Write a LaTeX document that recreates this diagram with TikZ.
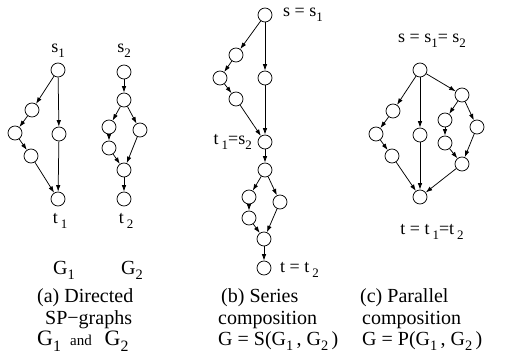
\documentclass[tikz,border=0pt]{standalone}
\usepackage{fontspec}
\setmainfont{Liberation Serif}
\usepackage{graphicx}
\usetikzlibrary{arrows.meta}
\newcommand\lsub[1]{\raisebox{-0.25em}{\scalebox{0.72}{#1}}}
\begin{document}
\begin{tikzpicture}[x=1pt,y=-1pt,
  vtx/.style={circle,draw,line width=0.75pt,minimum size=14pt,inner sep=0pt},
  arr/.style={-{Latex[length=6.5pt,width=4.5pt]},line width=0.75pt},
  lbl/.style={inner sep=0pt,font=\fontsize{18}{20}\selectfont},
  captxt/.style={inner sep=0pt,font=\fontsize{20}{22}\selectfont,anchor=west}]
\useasboundingbox (0,0) rectangle (512,356);
% G1
\node[vtx] (a1) at (58,70) {};
\node[vtx] (a2) at (32,110) {};
\node[vtx] (a3) at (15,133) {};
\node[vtx] (a4) at (31,156) {};
\node[vtx] (a5) at (59,134) {};
\node[vtx] (a6) at (58,199) {};
\draw[arr] (a1) -- (a2);
\draw[arr] (a1) -- (a5);
\draw[arr] (a2) -- (a3);
\draw[arr] (a3) -- (a4);
\draw[arr] (a4) -- (a6);
\draw[arr] (a5) -- (a6);
\node[lbl] (ls1) at (58,51) {s\lsub{1}};
\node[lbl] (lt1) at (60,221) {t\,\lsub{1}};
% G2
\node[vtx] (b1) at (124,72) {};
\node[vtx] (b2) at (124,100) {};
\node[vtx] (b3) at (109,127) {};
\node[vtx] (b4) at (140,130) {};
\node[vtx] (b5) at (109,148) {};
\node[vtx] (b6) at (124,170) {};
\node[vtx] (b7) at (124,199) {};
\draw[arr] (b1) -- (b2);
\draw[arr] (b2) -- (b3);
\draw[arr] (b2) -- (b4);
\draw[arr] (b3) -- (b5);
\draw[arr] (b5) -- (b6);
\draw[arr] (b4) -- (b6);
\draw[arr] (b6) -- (b7);
\node[lbl] (ls2) at (124,51) {s\lsub{2}};
\node[lbl] (lt2) at (126,221) {t\,\lsub{2}};
% Series
\node[vtx] (c1) at (265,15) {};
\node[vtx] (c2) at (236,55) {};
\node[vtx] (c3) at (220,78) {};
\node[vtx] (c4) at (236,99) {};
\node[vtx] (c5) at (265,78) {};
\node[vtx] (c6) at (265,142) {};
\node[vtx] (c7) at (265,170) {};
\node[vtx] (c8) at (249,197) {};
\node[vtx] (c9) at (280,202) {};
\node[vtx] (c10) at (249,218) {};
\node[vtx] (c11) at (264,239) {};
\node[vtx] (c12) at (264,268) {};
\draw[arr] (c1) -- (c2);
\draw[arr] (c1) -- (c5);
\draw[arr] (c2) -- (c3);
\draw[arr] (c3) -- (c4);
\draw[arr] (c4) -- (c6);
\draw[arr] (c5) -- (c6);
\draw[arr] (c6) -- (c7);
\draw[arr] (c7) -- (c8);
\draw[arr] (c7) -- (c9);
\draw[arr] (c8) -- (c10);
\draw[arr] (c10) -- (c11);
\draw[arr] (c9) -- (c11);
\draw[arr] (c11) -- (c12);
\node[lbl,anchor=west] (ls) at (283,15) {s = s\lsub{1}};
\node[lbl,anchor=east] (lts) at (252,142) {t\,\lsub{1}=s\lsub{2}};
\node[lbl,anchor=west] (lt) at (280,270) {t = t\,\lsub{2}};
% Parallel
\node[vtx] (d1) at (420,70) {};
\node[vtx] (d2) at (393,111) {};
\node[vtx] (d3) at (376,134) {};
\node[vtx] (d4) at (392,156) {};
\node[vtx] (d5) at (420,135) {};
\node[vtx] (d6) at (420,197) {};
\node[vtx] (d7) at (462,95) {};
\node[vtx] (d8) at (445,120) {};
\node[vtx] (d9) at (477,127) {};
\node[vtx] (d10) at (445,143) {};
\node[vtx] (d11) at (462,164) {};
\draw[arr] (d1) -- (d2);
\draw[arr] (d1) -- (d5);
\draw[arr] (d1) -- (d7);
\draw[arr] (d2) -- (d3);
\draw[arr] (d3) -- (d4);
\draw[arr] (d4) -- (d6);
\draw[arr] (d5) -- (d6);
\draw[arr] (d7) -- (d8);
\draw[arr] (d7) -- (d9);
\draw[arr] (d8) -- (d10);
\draw[arr] (d10) -- (d11);
\draw[arr] (d9) -- (d11);
\draw[arr] (d11) -- (d6);
\node[lbl] (lps) at (432,41) {s = s\lsub{1}= s\lsub{2}};
\node[lbl] (lpt) at (432,232) {t = t\,\lsub{1}=t\,\lsub{2}};
% captions
\node[lbl,font=\fontsize{20}{22}\selectfont] (g1) at (64,270) {G\lsub{1}};
\node[lbl,font=\fontsize{20}{22}\selectfont] (g2) at (132,270) {G\lsub{2}};
\node[captxt] (ca1) at (37,298) {(a) Directed};
\node[captxt] (ca2) at (45,320) {SP−graphs};
\node[captxt,font=\fontsize{22}{24}\selectfont] (ca3) at (37,341) {G\lsub{1}\, {\fontsize{15}{17}\selectfont and}\,\, G\lsub{2}};
\node[captxt] (cb1) at (221,298) {(b) Series};
\node[captxt] (cb2) at (218,320) {composition};
\node[captxt] (cb3) at (218,341) {G = S(G\lsub{1}\,, G\lsub{2}\,)};
\node[captxt] (cc1) at (360,298) {(c) Parallel};
\node[captxt] (cc2) at (362,320) {composition};
\node[captxt] (cc3) at (362,341) {G = P(G\lsub{1}\,, G\lsub{2}\,)};
\end{tikzpicture}
\end{document}
